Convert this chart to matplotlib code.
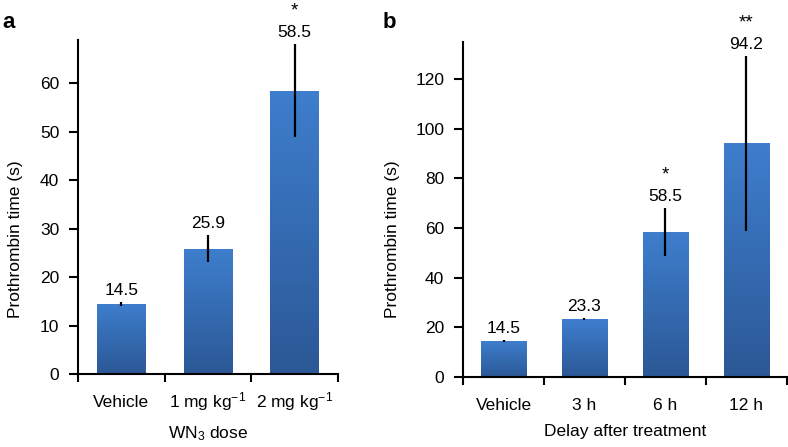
import matplotlib
matplotlib.use('Agg')
import matplotlib.pyplot as plt
import numpy as np

plt.rcParams.update({
    'font.family': ['Liberation Sans', 'DejaVu Sans'],
    'font.size': 12.5,
    'axes.linewidth': 1.5,
    'mathtext.fontset': 'custom',
    'mathtext.rm': 'Liberation Sans',
    'mathtext.it': 'Liberation Sans:italic',
    'mathtext.default': 'regular',
})

# panel a: dose
dose_labels = ['Vehicle', '1 mg kg$^{-1}$', '2 mg kg$^{-1}$']
dose_means = [14.5, 25.9, 58.5]
dose_err = [0.4, 2.8, 9.6]
dose_stars = ['', '', '*']

# panel b: delay
delay_labels = ['Vehicle', '3 h', '6 h', '12 h']
delay_means = [14.5, 23.3, 58.5, 94.2]
delay_err = [0.4, 0.3, 9.6, 35.3]
delay_stars = ['', '', '*', '**']

TOP = '#3e7ecd'
BOTTOM = '#2b5896'
FS = 12.5


def gradient_bars(ax, means, width=0.56):
    cmap = matplotlib.colors.LinearSegmentedColormap.from_list('g', [BOTTOM, TOP])
    bars = ax.bar(range(len(means)), means, width, color='none', edgecolor='none', zorder=2)
    grad = np.linspace(0, 1, 256).reshape(-1, 1)
    for b in bars:
        x0, y1 = b.get_x(), b.get_height()
        im = ax.imshow(grad, cmap=cmap, origin='lower', aspect='auto',
                       extent=[x0, x0 + b.get_width(), 0, y1], zorder=2)
        im.set_clip_path(b)
    return bars


def draw_panel(ax, labels, means, errs, stars, ymax, yticks, xlabel, ylab_x):
    n = len(means)
    gradient_bars(ax, means)
    ax.errorbar(range(n), means, yerr=errs, fmt='none', ecolor='black',
                elinewidth=1.6, capsize=0, zorder=3)
    for i, (m, e, s) in enumerate(zip(means, errs, stars)):
        ax.annotate(f'{m:.1f}', (i, m + e), xytext=(0, 5), textcoords='offset points',
                    ha='center', va='baseline', fontsize=FS)
        if s:
            ax.annotate(s, (i, m + e), xytext=(0, 20.5), textcoords='offset points',
                        ha='center', va='baseline', fontsize=FS + 1)
    ax.set_xlim(-0.5, n - 0.5)
    ax.set_ylim(0, ymax)
    ax.set_yticks(yticks)
    ax.set_xticks(range(n))
    ax.set_xticklabels(labels, fontsize=FS, va='baseline')
    ax.set_xticks(np.arange(-0.5, n, 1.0), minor=True)
    ax.tick_params(axis='x', which='major', length=0, pad=24)
    ax.tick_params(axis='x', which='minor', length=5.5, width=1.5, direction='out')
    ax.tick_params(axis='y', length=6.5, width=1.5, labelsize=FS, pad=7)
    for sp in ['top', 'right']:
        ax.spines[sp].set_visible(False)
    ax.set_xlabel(xlabel, fontsize=FS, labelpad=8)
    ax.set_ylabel('Prothrombin time (s)', fontsize=FS)
    ax.yaxis.set_label_coords(ylab_x, 0.465, transform=ax.figure.transFigure)


fig = plt.figure(figsize=(7.88, 4.47), dpi=100)
ax1 = fig.add_axes([0.099, 0.163, 0.330, 0.748])
ax2 = fig.add_axes([0.5876, 0.1566, 0.411, 0.7494])

draw_panel(ax1, dose_labels, dose_means, dose_err, dose_stars, 69,
           [0, 10, 20, 30, 40, 50, 60], 'WN$_3$ dose', 0.029)
draw_panel(ax2, delay_labels, delay_means, delay_err, delay_stars, 135,
           [0, 20, 40, 60, 80, 100, 120], 'Delay after treatment', 0.508)

fig.text(0.003, 0.937, 'a', fontsize=16, fontweight='bold', va='baseline')
fig.text(0.485, 0.937, 'b', fontsize=16, fontweight='bold', va='baseline')

fig.savefig('out.png', dpi=100)
